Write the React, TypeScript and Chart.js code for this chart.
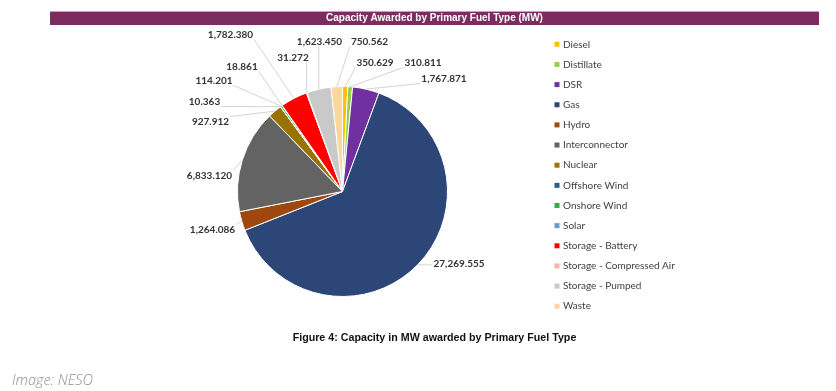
import React, { useEffect, useRef } from "react";
import { Chart, registerables } from "chart.js";

Chart.register(...registerables);

const categories = [
  "Diesel",
  "Distillate",
  "DSR",
  "Gas",
  "Hydro",
  "Interconnector",
  "Nuclear",
  "Offshore Wind",
  "Onshore Wind",
  "Solar",
  "Storage - Battery",
  "Storage - Compressed Air",
  "Storage - Pumped",
  "Waste",
];

const capacityMW = [
  350.629, 310.811, 1767.871, 27269.555, 1264.086, 6833.12, 927.912, 10.363,
  114.201, 18.861, 1782.38, 31.272, 1623.45, 750.562,
];

const sliceColors = [
  "#FFC000",
  "#92D050",
  "#7030A0",
  "#2B4677",
  "#9E480E",
  "#636363",
  "#997300",
  "#255E91",
  "#2EAE4E",
  "#6A97D3",
  "#FF0000",
  "#F4B6A6",
  "#C9C9C9",
  "#FDD69E",
];

// label text centre, as pixel offsets from the pie centre (layout only)
const labelOffsets: [number, number][] = [
  [32.5, -129],
  [80.5, -129],
  [101.5, -113],
  [116.5, 72],
  [-130, 38],
  [-133, -16],
  [-132, -70],
  [-138, -90],
  [-128.5, -111],
  [-100.5, -125],
  [-112, -157],
  [-49.5, -134],
  [-23, -150],
  [27, -150],
];

const chartTitle = "Capacity Awarded by Primary Fuel Type (MW)";
const figureCaption = "Figure 4: Capacity in MW awarded by Primary Fuel Type";
const creditText = "Image: NESO";

const fmt = (v: number) =>
  v.toLocaleString("en-US", { minimumFractionDigits: 3, maximumFractionDigits: 3 });

const decorPlugin = {
  id: "decor",
  afterDraw(chart: any) {
    const ctx: CanvasRenderingContext2D = chart.ctx;
    ctx.save();

    // title bar
    ctx.fillStyle = "#B7A8D0";
    ctx.fillRect(50, 11, 769, 1);
    ctx.fillStyle = "#7B2D60";
    ctx.fillRect(50, 12, 769, 13);
    ctx.fillStyle = "#ffffff";
    ctx.font = "bold 10px 'Liberation Sans Narrow', 'Liberation Sans', Arial, sans-serif";
    ctx.textAlign = "center";
    ctx.textBaseline = "middle";
    ctx.fillText(chartTitle, 434.5, 18.5);

    // data labels with leader lines
    const meta = chart.getDatasetMeta(0);
    ctx.font = "bold 10px Lato, 'Open Sans', sans-serif";
    meta.data.forEach((arc: any, i: number) => {
      const p = arc.getProps(["x", "y", "startAngle", "endAngle", "outerRadius"], true);
      const mid = (p.startAngle + p.endAngle) / 2;
      const ax = p.x + Math.cos(mid) * p.outerRadius;
      const ay = p.y + Math.sin(mid) * p.outerRadius;
      const [dx, dy] = labelOffsets[i];
      const cx = p.x + dx;
      const cy = p.y + dy;
      const text = fmt(capacityMW[i]);
      const w = ctx.measureText(text).width;
      const l = cx - w / 2 - 1;
      const r = cx + w / 2 + 1;
      const t = cy - 5;
      const b = cy + 5;
      const sx = Math.min(Math.max(ax, l), r);
      const sy = Math.min(Math.max(ay, t), b);
      ctx.strokeStyle = "#C8C8C8";
      ctx.lineWidth = 0.8;
      ctx.beginPath();
      ctx.moveTo(sx, sy);
      ctx.lineTo(ax, ay);
      ctx.stroke();
      ctx.fillStyle = "#333333";
      ctx.textAlign = "center";
      ctx.textBaseline = "middle";
      ctx.fillText(text, cx, cy);
    });

    // legend
    ctx.font = "10px Lato, 'Open Sans', sans-serif";
    ctx.textAlign = "left";
    ctx.textBaseline = "middle";
    categories.forEach((name, i) => {
      const y = 44.3 + i * 20.15;
      ctx.fillStyle = sliceColors[i];
      ctx.fillRect(554.5, y - 2.5, 5, 5);
      ctx.fillStyle = "#404040";
      ctx.fillText(name, 563, y);
    });

    // caption
    ctx.fillStyle = "#111111";
    ctx.font = "bold 10.7px 'Liberation Sans', Arial, sans-serif";
    ctx.textAlign = "center";
    ctx.fillText(figureCaption, 434.5, 338);

    // credit
    ctx.fillStyle = "#8E8E8E";
    ctx.font = "italic 300 14.5px 'Open Sans', sans-serif";
    ctx.textAlign = "left";
    ctx.fillText(creditText, 12, 381);

    ctx.restore();
  },
};

export default function App() {
  const canvasRef = useRef<HTMLCanvasElement | null>(null);

  useEffect(() => {
    if (!canvasRef.current) return;
    const chart = new Chart(canvasRef.current, {
      type: "pie",
      data: {
        labels: categories,
        datasets: [
          {
            data: capacityMW,
            backgroundColor: sliceColors,
            borderColor: "#ffffff",
            borderWidth: 1,
            hoverOffset: 0,
          },
        ],
      },
      options: {
        responsive: false,
        animation: false,
        devicePixelRatio: 1,
        layout: { padding: { left: 237, right: 388, top: 86, bottom: 94 } },
        plugins: {
          legend: { display: false },
          tooltip: { enabled: false },
          title: { display: false },
        },
        events: [],
      },
      plugins: [decorPlugin],
    });
    return () => chart.destroy();
  }, []);

  return (
    <div style={{ position: "fixed", left: 0, top: 0, width: 836, height: 391, background: "#ffffff" }}>
      <canvas ref={canvasRef} width={836} height={391} style={{ display: "block" }} />
    </div>
  );
}
